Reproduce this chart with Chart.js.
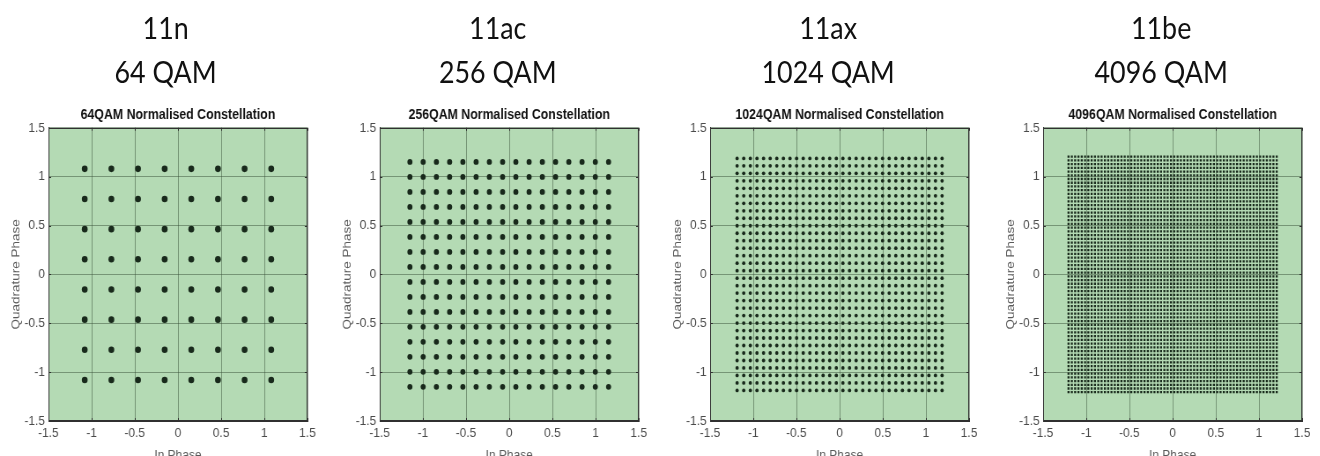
<!DOCTYPE html>
<html>
<head>
<meta charset="utf-8">
<script src="https://cdn.jsdelivr.net/npm/chart.js@4.4.1/dist/chart.umd.min.js"></script>
<style>
  body { margin: 0; width: 1320px; height: 456px; overflow: hidden; background: #fff; }
  /* the source picture is squeezed horizontally, so the whole stage is too */
  #stage { position: relative; width: 1499px; height: 456px; transform: scaleX(0.881); transform-origin: 0 0; }
  .head { position: absolute; top: 5px; width: 260px; text-align: center; font-family: Lato, "Open Sans", sans-serif; font-size: 30.5px; line-height: 44px; color: #111; }
  .box { position: absolute; top: 100px; }
</style>
</head>
<body>
<div id="stage"></div>
<script>
const headTech = ["11n", "11ac", "11ax", "11be"];
const headQam = ["64 QAM", "256 QAM", "1024 QAM", "4096 QAM"];
const plotTitles = [
  "64QAM Normalised Constellation",
  "256QAM Normalised Constellation",
  "1024QAM Normalised Constellation",
  "4096QAM Normalised Constellation"
];
const tickValues = [-1.5, -1, -0.5, 0, 0.5, 1, 1.5];
const tickLabels = ["-1.5", "-1", "-0.5", "0", "0.5", "1", "1.5"];

// I/Q amplitude levels of each square constellation and its power normalisation
const levels64 = [-7, -5, -3, -1, 1, 3, 5, 7];
const levels256 = [-15, -13, -11, -9, -7, -5, -3, -1, 1, 3, 5, 7, 9, 11, 13, 15];
const levels1024 = [-31, -29, -27, -25, -23, -21, -19, -17, -15, -13, -11, -9, -7, -5, -3, -1,
  1, 3, 5, 7, 9, 11, 13, 15, 17, 19, 21, 23, 25, 27, 29, 31];
const levels4096 = [-63, -61, -59, -57, -55, -53, -51, -49, -47, -45, -43, -41, -39, -37, -35, -33,
  -31, -29, -27, -25, -23, -21, -19, -17, -15, -13, -11, -9, -7, -5, -3, -1,
  1, 3, 5, 7, 9, 11, 13, 15, 17, 19, 21, 23, 25, 27, 29, 31,
  33, 35, 37, 39, 41, 43, 45, 47, 49, 51, 53, 55, 57, 59, 61, 63];
const norms = [6.4807, 13.0384, 26.1151, 52.2494];
const allLevels = [levels64, levels256, levels1024, levels4096];

const boxLefts = [0, 376, 751, 1129];
const headLefts = [58, 435, 810, 1188];
const dotRadius = [3.3, 2.9, 1.9, 1.6];
const dotStyle = ["circle", "circle", "circle", "rect"];

const axisFont = { family: "'Liberation Sans', Arial, sans-serif", size: 13.5 };
const plotBg = "#b4dab4";
const gridColor = "rgba(55, 80, 55, 0.5)";
const frameColor = "#303030";
const dotColor = "#18291b";

const frame = {
  id: "frame",
  beforeDraw(chart) {
    const a = chart.chartArea, ctx = chart.ctx;
    ctx.save();
    ctx.fillStyle = plotBg;
    ctx.fillRect(a.left, a.top, a.right - a.left, a.bottom - a.top);
    ctx.restore();
  },
  afterDraw(chart) {
    const a = chart.chartArea, ctx = chart.ctx;
    const xs = chart.scales.x, ys = chart.scales.y;
    ctx.save();
    ctx.strokeStyle = frameColor;
    ctx.lineWidth = 1;
    ctx.strokeRect(Math.round(a.left) + 0.5, Math.round(a.top) + 0.5,
      Math.round(a.right - a.left) - 1, Math.round(a.bottom - a.top) - 1);
    // matlab style inward ticks
    ctx.beginPath();
    tickValues.forEach(v => {
      const px = Math.round(xs.getPixelForValue(v)) + 0.5;
      const py = Math.round(ys.getPixelForValue(v)) + 0.5;
      ctx.moveTo(px, a.bottom); ctx.lineTo(px, a.bottom - 3);
      ctx.moveTo(px, a.top); ctx.lineTo(px, a.top + 3);
      ctx.moveTo(a.left, py); ctx.lineTo(a.left + 3, py);
      ctx.moveTo(a.right, py); ctx.lineTo(a.right - 3, py);
    });
    ctx.stroke();
    ctx.restore();
  }
};

function axis(title, pos) {
  return {
    type: "linear",
    min: -1.5,
    max: 1.5,
    afterBuildTicks: s => { s.ticks = tickValues.map(v => ({ value: v })); },
    afterFit: s => { if (pos === "x") s.height = 45; else s.width = 55; },
    ticks: {
      callback: v => tickLabels[tickValues.indexOf(v)],
      font: axisFont,
      color: "#4a4a4a",
      padding: 4,
      maxRotation: 0,
      autoSkip: false
    },
    grid: { color: gridColor, drawTicks: false, tickLength: 0 },
    border: { color: frameColor },
    title: {
      display: true,
      text: title,
      font: axisFont,
      color: "#5a5a5a",
      padding: pos === "x" ? { top: 0, bottom: 3 } : { top: 10, bottom: 0 }
    }
  };
}

const stage = document.getElementById("stage");

for (let k = 0; k < 4; k++) {
  const head = document.createElement("div");
  head.className = "head";
  head.style.left = headLefts[k] + "px";
  head.innerHTML = headTech[k] + "<br>" + headQam[k];
  stage.appendChild(head);

  const box = document.createElement("div");
  box.className = "box";
  box.style.left = boxLefts[k] + "px";
  const canvas = document.createElement("canvas");
  canvas.width = 363;
  canvas.height = 366;
  box.appendChild(canvas);
  stage.appendChild(box);

  const pts = [];
  allLevels[k].forEach(i => {
    allLevels[k].forEach(q => {
      pts.push({ x: i / norms[k], y: q / norms[k] });
    });
  });

  new Chart(canvas, {
    type: "scatter",
    data: {
      datasets: [{
        data: pts,
        backgroundColor: dotColor,
        borderWidth: 0,
        pointRadius: dotRadius[k],
        pointStyle: dotStyle[k]
      }]
    },
    options: {
      responsive: false,
      animation: false,
      events: [],
      layout: { padding: { right: 14 } },
      plugins: {
        legend: { display: false },
        tooltip: { enabled: false },
        title: {
          display: true,
          fullSize: false,
          text: plotTitles[k],
          color: "#111",
          font: { family: "'Liberation Sans', Arial, sans-serif", size: 14, weight: "bold" },
          padding: { top: 7, bottom: 4 }
        }
      },
      scales: {
        x: axis("In Phase", "x"),
        y: axis("Quadrature Phase", "y")
      }
    },
    plugins: [frame]
  });
}
</script>
</body>
</html>
